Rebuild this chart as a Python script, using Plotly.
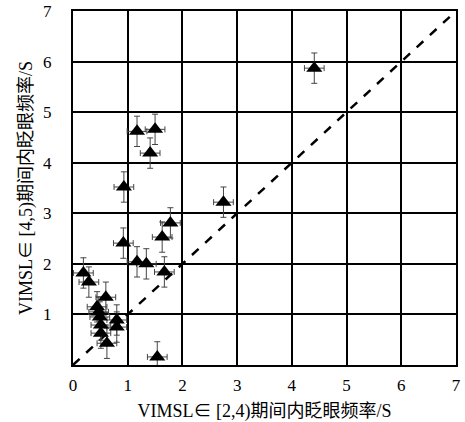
import plotly.graph_objects as go

x_vals = [4.41, 2.75, 1.17, 1.50, 1.41, 0.93, 1.78, 1.63, 0.92, 1.17, 1.34, 1.67,
          0.19, 0.29, 0.60, 0.44, 0.49, 0.80, 0.80, 0.51, 0.47, 0.51, 0.62, 1.54]
y_vals = [5.87, 3.22, 4.62, 4.66, 4.19, 3.52, 2.81, 2.53, 2.41, 2.04, 2.00, 1.84,
          1.82, 1.64, 1.34, 1.15, 0.95, 0.89, 0.75, 0.79, 1.05, 0.63, 0.43, 0.16]
x_err = [0.18] * len(x_vals)
y_err = [0.30] * len(y_vals)
diag = [0, 7]
x_ticks = [0, 1, 2, 3, 4, 5, 6, 7]
y_ticks = [1, 2, 3, 4, 5, 6, 7]

font_fam = "Liberation Serif, Noto Sans CJK SC, serif"

fig = go.Figure()
fig.add_trace(go.Scatter(x=diag, y=diag, mode="lines",
                         line=dict(color="black", width=2.5, dash="dash"),
                         showlegend=False, hoverinfo="skip"))
fig.add_trace(go.Scatter(
    x=x_vals, y=y_vals, mode="markers",
    marker=dict(symbol="triangle-up", size=14, color="black"),
    error_x=dict(type="data", array=x_err, color="#444444", thickness=1, width=3),
    error_y=dict(type="data", array=y_err, color="#444444", thickness=1, width=3),
    showlegend=False))

fig.update_layout(
    width=465, height=422,
    margin=dict(l=73, r=9, t=11, b=57),
    plot_bgcolor="white", paper_bgcolor="white",
    font=dict(family=font_fam, color="black", size=16),
    xaxis=dict(range=[0, 7], tickvals=x_ticks, showgrid=True, gridcolor="black",
               gridwidth=2, zeroline=False, showline=True, linecolor="black",
               linewidth=2, mirror=True, ticks="outside", ticklen=4, tickcolor="white",
               tickfont=dict(size=17), automargin=False,
               title=dict(text="VIMSL∈ [2,4)期间内眨眼频率/S", font=dict(size=18), standoff=12)),
    yaxis=dict(range=[0, 7], tickvals=y_ticks, showgrid=True, gridcolor="black",
               gridwidth=2, zeroline=False, showline=True, linecolor="black",
               linewidth=2, mirror=True, ticks="outside", ticklen=16, tickcolor="white",
               tickfont=dict(size=17), automargin=False,
               title=dict(text="VIMSL∈ [4,5)期间内眨眼频率/S", font=dict(size=18), standoff=6)),
)

fig.write_html("out.html", config={"displayModeBar": False},
               post_script="document.body.style.margin='0';document.body.style.overflow='hidden';")
